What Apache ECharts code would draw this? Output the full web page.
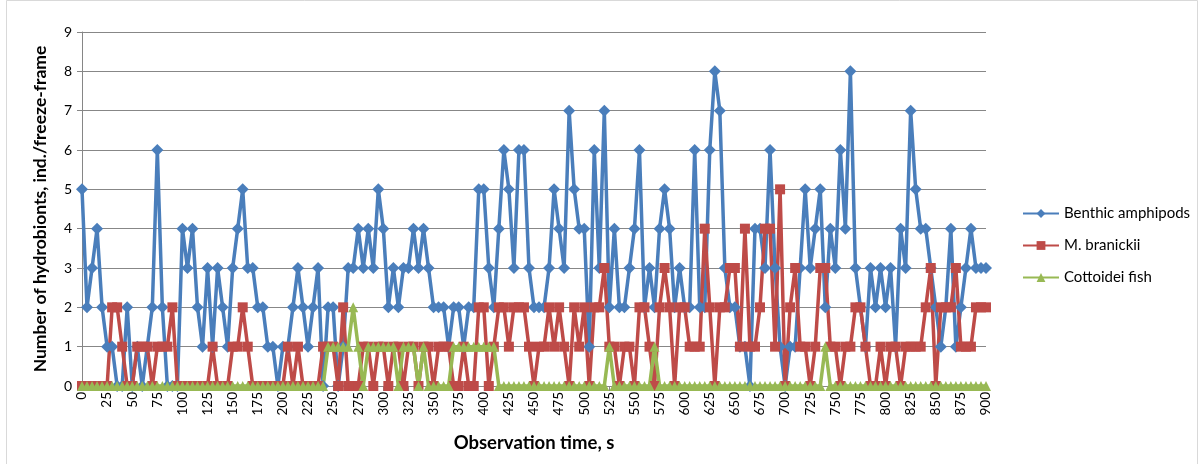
<!DOCTYPE html>
<html>
<head>
<meta charset="utf-8">
<script src="https://cdn.jsdelivr.net/npm/echarts@6/dist/echarts.min.js"></script>
<style>
html,body{margin:0;padding:0;background:#fff;}
#chart{width:1204px;height:464px;}
</style>
</head>
<body>
<div id="chart"></div>
<script>
// Observation time categories, s (every 5 s from 0 to 900)
var times = [];
for (var t = 0; t <= 900; t += 5) { times.push(String(t)); }

var seriesNames = ['Benthic amphipods', 'M. branickii', 'Cottoidei fish'];

var amphipods = [
  5,2,3,4,2,1,1,0,0,2,
  0,1,0,1,2,6,2,0,0,0,
  4,3,4,2,1,3,1,3,2,1,
  3,4,5,3,3,2,2,1,1,0,
  1,1,2,3,2,1,2,3,0,2,
  2,0,1,3,3,4,3,4,3,5,
  4,2,3,2,3,3,4,3,4,3,
  2,2,2,1,2,2,1,2,2,5,
  5,3,2,4,6,5,3,6,6,3,
  2,2,2,3,5,4,3,7,5,4,
  4,1,6,3,7,2,4,2,2,3,
  4,6,2,3,2,4,5,4,2,3,
  2,2,6,2,2,6,8,7,3,2,
  2,1,1,0,4,4,3,6,3,1,
  0,1,1,3,5,3,4,5,2,4,
  3,6,4,8,3,2,1,3,2,3,
  2,3,1,4,3,7,5,4,4,3,
  2,1,2,4,1,2,3,4,3,3,3
];

var branickii = [
  0,0,0,0,0,0,2,2,1,0,
  0,1,1,1,0,1,1,1,2,0,
  0,0,0,0,0,0,1,0,0,0,
  1,1,2,1,0,0,0,0,0,0,
  0,1,0,1,0,0,0,0,1,1,
  1,0,2,0,0,0,1,1,0,1,
  1,0,1,1,0,1,1,0,1,1,
  0,1,1,1,0,0,1,0,0,2,
  2,0,1,2,2,1,2,2,2,1,
  0,1,1,2,1,2,1,0,2,1,
  2,0,2,2,3,1,1,0,1,1,
  0,2,2,1,0,2,3,2,0,2,
  2,1,1,1,4,2,0,2,2,3,
  3,1,4,1,1,2,4,4,1,5,
  0,2,3,1,1,0,1,3,3,1,
  1,0,1,1,2,2,1,0,0,1,
  0,1,1,0,1,1,1,1,2,3,
  0,2,2,2,3,1,1,1,2,2,2
];

var cottoidei = [
  0,0,0,0,0,0,0,0,0,0,
  0,0,0,0,0,0,0,0,0,0,
  0,0,0,0,0,0,0,0,0,0,
  0,0,0,0,0,0,0,0,0,0,
  0,0,0,0,0,0,0,0,0,1,
  1,1,1,1,2,1,0,1,1,1,
  1,1,1,0,1,1,1,0,1,0,
  0,0,0,0,1,1,1,1,1,1,
  1,1,1,0,0,0,0,0,0,0,
  0,0,0,0,0,0,0,0,0,0,
  0,0,0,0,0,1,0,0,0,0,
  0,0,0,0,1,0,0,0,0,0,
  0,0,0,0,0,0,0,0,0,0,
  0,0,0,0,0,0,0,0,0,0,
  0,0,0,0,0,0,0,0,1,0,
  0,0,0,0,0,0,0,0,0,0,
  0,0,0,0,0,0,0,0,0,0,
  0,0,0,0,0,0,0,0,0,0,0
];

var yTicks = [0,1,2,3,4,5,6,7,8,9];

var FONT = 'Lato, "Liberation Sans", sans-serif';
var chart = echarts.init(document.getElementById('chart'), null, {renderer: 'canvas'});

function lineSeries(name, data, color, symbol, size) {
  return {
    name: name,
    type: 'line',
    data: data,
    symbol: symbol,
    symbolSize: size,
    showAllSymbol: true,
    lineStyle: {color: color, width: 3.5},
    itemStyle: {color: color},
    emphasis: {disabled: true},
    animation: false
  };
}

chart.setOption({
  animation: false,
  backgroundColor: '#fff',
  graphic: [{
    type: 'rect',
    shape: {x: 6.5, y: 0.5, width: 1191, height: 470},
    style: {fill: 'none', stroke: '#d9d9d9', lineWidth: 1},
    silent: true
  }],
  grid: {left: 82, right: 218, top: 32, bottom: 78, containLabel: false},
  legend: {
    orient: 'vertical',
    left: 1017,
    top: 201,
    itemWidth: 36,
    itemHeight: 11,
    itemGap: 17,
    data: seriesNames,
    textStyle: {fontFamily: FONT, fontSize: 15, color: '#000'}
  },
  xAxis: {
    type: 'category',
    data: times,
    boundaryGap: false,
    name: 'Observation time, s',
    nameLocation: 'middle',
    nameGap: 48,
    nameTextStyle: {fontFamily: FONT, fontSize: 18.5, fontWeight: 'bold', color: '#000'},
    axisLine: {lineStyle: {color: '#868686', width: 1}},
    axisTick: {show: true, interval: 4, length: 5, lineStyle: {color: '#868686'}},
    axisLabel: {interval: 4, rotate: 90, fontFamily: FONT, fontSize: 13.5, color: '#000', margin: 6},
    splitLine: {show: false}
  },
  yAxis: {
    type: 'value',
    min: yTicks[0],
    max: yTicks[yTicks.length - 1],
    interval: 1,
    name: 'Number of hydrobionts, ind./freeze-frame',
    nameLocation: 'middle',
    nameGap: 33,
    nameTextStyle: {fontFamily: FONT, fontSize: 17.5, fontWeight: 'bold', color: '#000'},
    axisLine: {show: true, lineStyle: {color: '#868686', width: 1}},
    axisTick: {show: true, length: 5, lineStyle: {color: '#868686'}},
    axisLabel: {fontFamily: FONT, fontSize: 14, color: '#000', margin: 10},
    splitLine: {lineStyle: {color: '#878787', width: 1}}
  },
  series: [
    lineSeries(seriesNames[0], amphipods, '#4A7EBB', 'diamond', 12),
    lineSeries(seriesNames[1], branickii, '#BE4B48', 'rect', 10),
    lineSeries(seriesNames[2], cottoidei, '#98B954', 'triangle', 10)
  ]
});
</script>
</body>
</html>
